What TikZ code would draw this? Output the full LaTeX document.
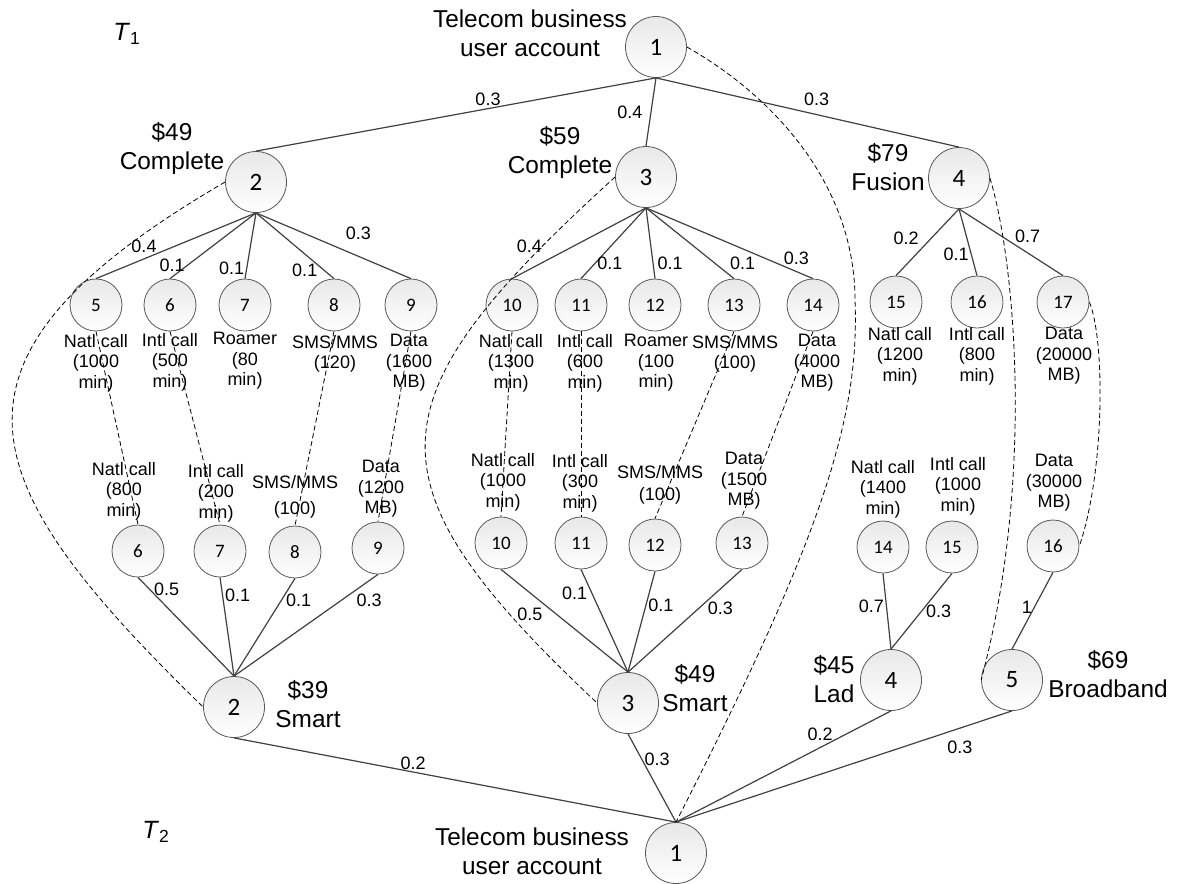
\documentclass[tikz,border=0pt]{standalone}
\usepackage{fontspec}
\setmainfont{Liberation Sans}
\newfontfamily\numfont{Carlito}
\tikzset{
 bignode/.style={circle, draw=black!65, line width=0.4pt, top color=black!9, bottom color=white, minimum size=30.5pt, inner sep=0pt, font=\numfont\fontsize{12.5}{12.5}\selectfont},
 smallnode/.style={bignode, minimum size=26pt, font=\numfont\fontsize{9.5}{9.5}\selectfont},
 plan/.style={align=center, inner sep=0pt, font=\fontsize{12.2}{14.5}\selectfont},
 svc/.style={align=center, inner sep=0pt, font=\fontsize{9}{10.3}\selectfont},
 prob/.style={inner sep=1pt, font=\fontsize{9}{9}\selectfont},
 tie/.style={draw=black!75, line width=0.6pt},
 match/.style={draw=black, line width=0.4pt, dash pattern=on 2.5pt off 1.5pt},
}
\begin{document}
\begin{tikzpicture}[x=0.5pt, y=-0.5pt]
\useasboundingbox (0,0) rectangle (1179,884);

%tree T1
\node[bignode] (a1) at (656,47) {1};
\node[bignode] (a2) at (256,182) {2};
\node[bignode] (a3) at (646,177) {3};
\node[bignode] (a4) at (959,178) {4};
\foreach \n/\x/\y in {5/96/305, 6/170/305, 7/245/305, 8/334/305, 9/411/305,
  10/512/305, 11/581/305, 12/655/305, 13/734/305, 14/813/305,
  15/896/302, 16/977/302, 17/1063/302}
  \node[smallnode] (a\n) at (\x,\y) {\n};

%tree T2
\node[bignode] (b1) at (676,853) {1};
\node[bignode] (b2) at (234,707) {2};
\node[bignode] (b3) at (628,703) {3};
\node[bignode] (b4) at (891,680) {4};
\node[bignode] (b5) at (1012,680) {5};
\foreach \n/\x/\y in {6/138/551, 7/220/551, 8/295/552, 9/378/548,
  10/501/543, 11/581/543, 12/655/545, 13/742/543,
  14/883/547, 15/952/547, 16/1053/546}
  \node[smallnode] (b\n) at (\x,\y) {\n};

\node[font=\fontsize{12.5}{12.5}\selectfont] (t1) at (127,34) {\textit{T}\textsubscript{1}};
\node[font=\fontsize{12.5}{12.5}\selectfont] (t2) at (156,832) {\textit{T}\textsubscript{2}};

\node[plan] (acct1) at (530,33) {Telecom business\\user account};
\node[plan] (acct2) at (532,851) {Telecom business\\user account};
\node[plan] (p2) at (172,148) {\$49\\Complete};
\node[plan] (p3) at (560,152) {\$59\\Complete};
\node[plan] (p4) at (888,167) {\$79\\Fusion};
\node[plan] (q2) at (308,704) {\$39\\Smart};
\node[plan] (q3) at (695,688) {\$49\\Smart};
\node[plan] (q4) at (834,679) {\$45\\Lad};
\node[plan] (q5) at (1108,674) {\$69\\Broadband};

%services of T1
\node[svc] (s5) at (96,363) {Natl call\\(1000\\min)};
\node[svc] (s6) at (170,362) {Intl call\\(500\\min)};
\node[svc] (s7) at (245,361) {Roamer\\(80\\min)};
\node[svc] (s8) at (335,354) {SMS/MMS\\(120)};
\node[svc] (s9) at (409,363) {Data\\(1600\\MB)};
\node[svc] (s10) at (511,363) {Natl call\\(1300\\min)};
\node[svc] (s11) at (585,363) {Intl call\\(600\\min)};
\node[svc] (s12) at (656,363) {Roamer\\(100\\min)};
\node[svc] (s13) at (735,354) {SMS/MMS\\(100)};
\node[svc] (s14) at (817,363) {Data\\(4000\\MB)};
\node[svc] (s15) at (900,356) {Natl call\\(1200\\min)};
\node[svc] (s16) at (977,356) {Intl call\\(800\\min)};
\node[svc] (s17) at (1064,356) {Data\\(20000\\MB)};

%services of T2
\node[svc] (r6) at (124,491) {Natl call\\(800\\min)};
\node[svc] (r7) at (216,493) {Intl call\\(200\\min)};
\node[svc] (r8) at (295,497) {SMS/MMS\\[3pt](100)};
\node[svc] (r9) at (381,489) {Data\\(1200\\MB)};
\node[svc] (r10) at (503,482) {Natl call\\(1000\\min)};
\node[svc] (r11) at (580,483) {Intl call\\(300\\min)};
\node[svc] (r12) at (660,485) {SMS/MMS\\[1pt](100)};
\node[svc] (r13) at (744,481) {Data\\(1500\\MB)};
\node[svc] (r14) at (883,489) {Natl call\\(1400\\min)};
\node[svc] (r15) at (958,486) {Intl call\\(1000\\min)};
\node[svc] (r16) at (1054,483) {Data\\(30000\\MB)};

%edges of T1
\draw[tie] (a1.south) -- node[prob, pos=.42, above] {0.3} (a2.north);
\draw[tie] (a1.south) -- node[prob, pos=.51, left=3pt] {0.4} (a3.north);
\draw[tie] (a1.south) -- node[prob, pos=.53, above=3pt] {0.3} (a4.north);
\draw[tie] (a2.south) -- node[prob, pos=.7, above=2pt] {0.4} (a5.north);
\draw[tie] (a2.south) -- node[prob, pos=.8, left] {0.1} (a6.north);
\draw[tie] (a2.south) -- node[prob, pos=.84, left] {0.1} (a7.north);
\draw[tie] (a2.south) -- node[prob, pos=.87, left=2pt] {0.1} (a8.north);
\draw[tie] (a2.south) -- node[prob, pos=.66, above=7pt] {0.3} (a9.north);
\draw[tie] (a3.south) -- node[prob, pos=.87, above=7pt] {0.4} (a10.north);
\draw[tie] (a3.south) -- node[prob, pos=.79, right] {0.1} (a11.north);
\draw[tie] (a3.south) -- node[prob, pos=.78, right=1pt] {0.1} (a12.north);
\draw[tie] (a3.south) -- node[prob, pos=.79, right=6pt] {0.1} (a13.north);
\draw[tie] (a3.south) -- node[prob, pos=.9, above=2pt] {0.3} (a14.north);
\draw[tie] (a4.south) -- node[prob, pos=.44, left=5pt] {0.2} (a15.north);
\draw[tie] (a4.south) -- node[prob, pos=.68, left] {0.1} (a16.north);
\draw[tie] (a4.south) -- node[prob, pos=.66, above=4pt] {0.7} (a17.north);

%edges of T2
\draw[tie] (b6.south) -- node[prob, pos=.12, right=1pt] {0.5} (b2.north);
\draw[tie] (b7.south) -- node[prob, pos=.18, right] {0.1} (b2.north);
\draw[tie] (b8.south) -- node[prob, pos=.22, right=1pt] {0.1} (b2.north);
\draw[tie] (b9.south) -- node[prob, pos=.25, right=6pt] {0.3} (b2.north);
\draw[tie] (b10.south) -- node[prob, pos=.44, left=6pt] {0.5} (b3.north);
\draw[tie] (b11.south) -- node[prob, pos=.23, left=1pt] {0.1} (b3.north);
\draw[tie] (b12.south) -- node[prob, pos=.34, right] {0.1} (b3.north);
\draw[tie] (b13.south) -- node[prob, pos=.375, right=3pt] {0.3} (b3.north);
\draw[tie] (b14.south) -- node[prob, pos=.43, left] {0.7} (b4.north);
\draw[tie] (b15.south) -- node[prob, pos=.5, right=1pt] {0.3} (b4.north);
\draw[tie] (b16.south) -- node[prob, pos=.45, left] {1} (b5.north);
\draw[tie] (b2.south) -- node[prob, pos=.405, above] {0.2} (b1.north);
\draw[tie] (b3.south) -- node[prob, pos=.29, right] {0.3} (b1.north);
\draw[tie] (b4.south) -- node[prob, pos=.33, above=2pt] {0.2} (b1.north);
\draw[tie] (b5.south) -- node[prob, pos=.155, below=5pt] {0.3} (b1.north);

%matching between T1 and T2
\draw[match] (a1.east) .. controls (780,100) and (855,190) .. (855,300)
  .. controls (860,420) and (820,540) .. (b1.north);
\draw[match] (a2.west) .. controls (-80,360) and (-30,480) .. (b2.west);
\draw[match] (a3.west) .. controls (370,400) and (360,480) .. (b3.west);
\draw[match] (a4.east) .. controls (1015,260) and (1035,480) .. (b5.west);
\draw[match] (a17.east) .. controls (1105,340) and (1105,470) .. (b16.east);
\draw[match] (a5.south) -- (b6.north);
\draw[match] (a6.south) -- (b7.north);
\draw[match] (a8.south) -- (b8.north);
\draw[match] (a9.south) -- (b9.north);
\draw[match] (a10.south) -- (b10.north);
\draw[match] (a11.south) -- (b11.north);
\draw[match] (a13.south) -- (b12.north);
\draw[match] (a14.south) -- (b13.north);
\end{tikzpicture}
\end{document}
